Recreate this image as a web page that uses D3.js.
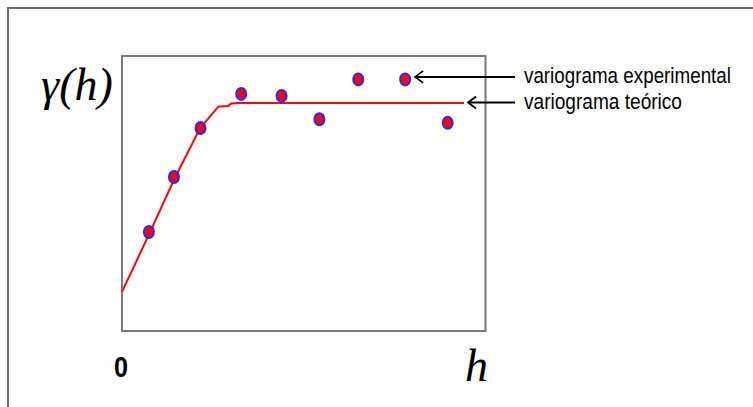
<!DOCTYPE html>
<html>
<head>
<meta charset="utf-8">
<script src="https://cdn.jsdelivr.net/npm/d3@7"></script>
<style>
  body { margin: 0; background: #fff; }
  svg { display: block; }
</style>
</head>
<body>
<div id="chart"></div>
<script>
// experimental variogram (lag, gamma) in chart units
const lagExp = [7.4, 14.3, 21.6, 32.8, 43.9, 54.3, 65.0, 77.9, 89.6];
const gammaExp = [36.0, 56.0, 73.8, 86.2, 85.5, 77.0, 91.5, 91.5, 75.7];

// theoretical model line as drawn
const lagModel = [0, 7.6, 14.3, 21.5, 26.5, 29.2, 30.0, 32.5, 94.1];
const gammaModel = [14.2, 35.6, 55.0, 73.8, 81.6, 81.8, 82.7, 82.9, 82.9];

const labels = ["variograma experimental", "variograma teórico"];

const W = 753, H = 407;
const margin = { top: 56, right: 267.5, bottom: 76, left: 122 };

const svg = d3.select("#chart").append("svg")
  .attr("width", W)
  .attr("height", H);

svg.append("rect").attr("width", W).attr("height", H).attr("fill", "#fff");

// outer frame (only top & left visible)
svg.append("path")
  .attr("d", `M8,${H} L8,8 L${W},8`)
  .attr("fill", "none")
  .attr("stroke", "#6e6e6e")
  .attr("stroke-width", 2);

const x = d3.scaleLinear().domain([0, 100]).range([margin.left, W - margin.right]);
const y = d3.scaleLinear().domain([0, 100]).range([H - margin.bottom, margin.top]);

// plot box
svg.append("rect")
  .attr("x", x(0))
  .attr("y", y(100))
  .attr("width", x(100) - x(0))
  .attr("height", y(0) - y(100))
  .attr("fill", "none")
  .attr("stroke", "#7a7a7a")
  .attr("stroke-width", 2);

// model line
const modelData = lagModel.map((d, i) => [d, gammaModel[i]]);
svg.append("path")
  .datum(modelData)
  .attr("fill", "none")
  .attr("stroke", "#ff0000")
  .attr("stroke-width", 2)
  .attr("d", d3.line().x(d => x(d[0])).y(d => y(d[1])));

// experimental points
const expData = lagExp.map((d, i) => [d, gammaExp[i]]);
svg.selectAll(".pt")
  .data(expData)
  .join("ellipse")
  .attr("class", "pt")
  .attr("cx", d => x(d[0]))
  .attr("cy", d => y(d[1]))
  .attr("rx", 5)
  .attr("ry", 6)
  .attr("fill", "#ff0000")
  .attr("stroke", "#2a2aff")
  .attr("stroke-width", 2);

// annotation arrows
const arrowY = [y(gammaExp[7]) - 2.5, y(gammaModel[8]) - 0.5];
const arrowTip = [x(lagExp[7]) + 10, x(lagModel[8]) + 4];
const textLen = [207, 158];
labels.forEach((lab, i) => {
  const ay = arrowY[i];
  const tip = arrowTip[i];
  svg.append("line")
    .attr("x1", 515).attr("x2", tip)
    .attr("y1", ay).attr("y2", ay)
    .attr("stroke", "#000").attr("stroke-width", 2);
  svg.append("path")
    .attr("d", `M${tip + 8},${ay - 6} L${tip},${ay} L${tip + 8},${ay + 6}`)
    .attr("fill", "none")
    .attr("stroke", "#000")
    .attr("stroke-width", 1.8);
  svg.append("text")
    .attr("x", 524)
    .attr("y", ay + 6)
    .attr("font-family", "Liberation Sans, Arial, sans-serif")
    .attr("font-size", 20)
    .attr("textLength", textLen[i])
    .attr("lengthAdjust", "spacingAndGlyphs")
    .attr("fill", "#000")
    .attr("transform", `translate(524,${ay + 6}) scale(1,1.1) translate(-524,${-(ay + 6)})`)
    .text(lab);
});

// axis labels
svg.append("text")
  .attr("x", 41)
  .attr("y", 100)
  .attr("font-family", "Liberation Serif, Times New Roman, serif")
  .attr("font-style", "italic")
  .attr("font-size", 46)
  .text("γ(h)");

svg.append("text")
  .attr("x", x(0) - 1)
  .attr("y", 377)
  .attr("text-anchor", "middle")
  .attr("font-family", "Liberation Sans, Arial, sans-serif")
  .attr("font-weight", "bold")
  .attr("font-size", 28)
  .attr("transform", `translate(${x(0) - 1},377) scale(0.9,1.05) translate(${-(x(0) - 1)},-377)`)
  .text("0");

svg.append("text")
  .attr("x", x(100) - 9)
  .attr("y", 381)
  .attr("text-anchor", "middle")
  .attr("font-family", "Liberation Serif, Times New Roman, serif")
  .attr("font-style", "italic")
  .attr("font-size", 46)
  .text("h");
</script>
</body>
</html>
